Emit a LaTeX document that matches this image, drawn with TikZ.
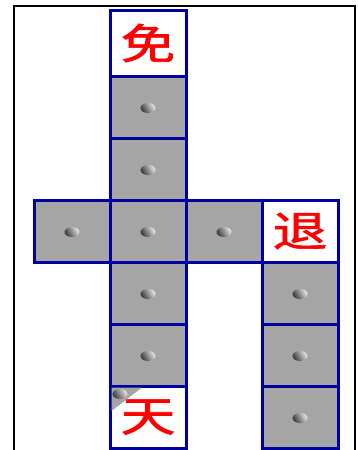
\documentclass[tikz,border=0pt]{standalone}
\usepackage{fontspec}
\newfontfamily\cjk{Noto Sans CJK SC}[FakeBold=1.5]
\definecolor{cellgray}{HTML}{A5A5A5}
\definecolor{cellblue}{HTML}{0000A0}
\definecolor{charred}{HTML}{FF0000}
\tikzset{
  cellbox/.style={draw=cellblue, line width=3pt, rectangle, inner sep=0pt,
    minimum width=76pt, minimum height=62pt, fill=cellgray},
  wordbox/.style={cellbox, fill=white, text=charred,
    font=\cjk\fontsize{42}{42}\selectfont},
  pip/.style={ellipse, minimum width=15pt, minimum height=10pt, inner sep=0pt,
    shading=axis, left color=gray!45!black, right color=gray!20, shading angle=120},
  frameline/.style={draw=black, line width=2.5pt}
}
\usetikzlibrary{shapes.geometric}
\newcommand{\wide}[1]{\scalebox{1.3}[1]{#1}}
\begin{document}
\begin{tikzpicture}[x=1pt, y=-1pt]
\useasboundingbox (0,0) rectangle (357,450);
\fill[white] (0,0) rectangle (357,450);
% outer frame
\coordinate (fbl) at (14,452);
\coordinate (ftl) at (14,6);
\coordinate (ftr) at (355,6);
\coordinate (fbr) at (355,452);
\draw[frameline] (fbl) -- (ftl) -- (ftr) -- (fbr);
% column 2
\node[wordbox, minimum height=66pt] (c1) at (148,43) {\raisebox{-2pt}{\wide{免}}};
\node[cellbox] (c2) at (148,107) {};
\node[cellbox] (c3) at (148,169) {};
\node[cellbox] (c4) at (148,231) {};
\node[cellbox] (c5) at (148,293) {};
\node[cellbox] (c6) at (148,355) {};
\node[wordbox] (c7) at (148,417) {\raisebox{-2pt}{\wide{天}}};
% row 4
\node[cellbox] (r1) at (72,231) {};
\node[cellbox] (r3) at (224,231) {};
\node[wordbox] (r4) at (300,231) {\raisebox{-3pt}{\wide{退}}};
% column 4
\node[cellbox] (d5) at (300,293) {};
\node[cellbox] (d6) at (300,355) {};
\node[cellbox] (d7) at (300,417) {};
% pips
\foreach \n in {c2,c3,c4,c5,c6,r1,r3,d5,d6,d7}
  \node[pip] at ([yshift=-1pt]\n.center) {};
% folded corner of 天
\begin{scope}
  \clip (111.5,387.5) -- (142,387.5) -- (111.5,411) -- cycle;
  \fill[cellgray] (111.5,387.5) -- (142,387.5) -- (111.5,411) -- cycle;
  \node[pip] at (120,394) {};
\end{scope}
\end{tikzpicture}
\end{document}
